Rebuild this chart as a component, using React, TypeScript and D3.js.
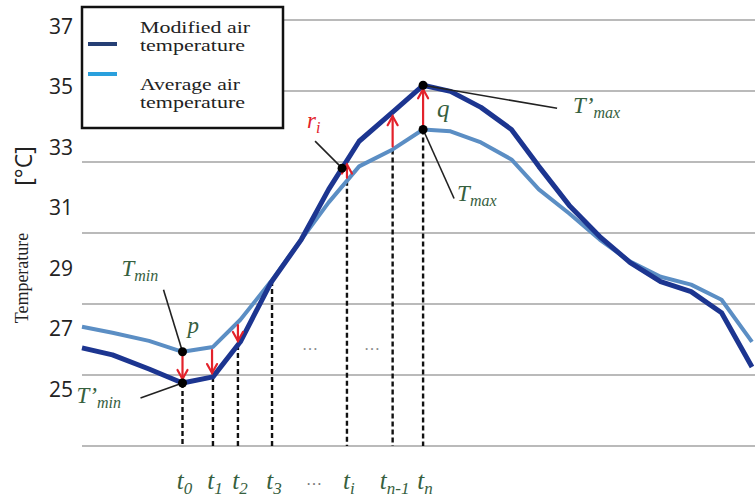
import React from "react";
import * as d3 from "d3";

// ---- data ----
const hours = [0, 1, 2.2, 3.3, 4.3, 5.2, 6.2, 7.2, 8.1, 9.1, 10.2, 11.2, 12.1, 13.1, 14.1, 15, 16, 17, 18, 19, 20, 21, 22];
const modifiedTemp = [26.36, 26.13, 25.66, 25.2, 25.4, 26.56, 28.51, 29.94, 31.6, 33.19, 34.15, 35.04, 34.84, 34.31, 33.58, 32.36, 31.07, 30.04, 29.18, 28.55, 28.22, 27.52, 25.73];
const averageTemp = [27.06, 26.86, 26.59, 26.23, 26.39, 27.29, 28.55, 29.94, 31.17, 32.36, 32.92, 33.58, 33.52, 33.15, 32.59, 31.6, 30.8, 29.94, 29.21, 28.71, 28.45, 27.95, 26.56];
const yTicks = [25, 27, 29, 31, 33, 35, 37];
const gridIndex = [0, 1, 2, 3, 4, 5, 6];

const markTimes = [3.3, 4.3, 5.12, 6.24, 8.7, 10.2, 11.2];
const markMain = ["t", "t", "t", "t", "t", "t", "t"];
const markSubs = ["0", "1", "2", "3", "i", "n-1", "n"];
const arrowTimes = [3.3, 4.27, 5.12, 8.7, 10.2, 11.2];

const legendLabels = [["Modified air", "temperature"], ["Average air", "temperature"]];

const W = 755, H = 497;
const DARK = "#1c3590";
const LIGHT = "#5b8ec4";
const GREEN = "#36603e";
const RED = "#e3222b";
const SERIF = "'Liberation Serif', 'Times New Roman', serif";
const SANS = "'Open Sans', 'Noto Sans', sans-serif";

const x = d3.scaleLinear().domain([0, 22]).range([82, 752]);
const y = d3.scaleLinear().domain([25, 37]).range([389, 26]);
const gy = d3.scaleLinear().domain([0, 6]).range([446, 20]);

function interp(vals: number[], t: number) {
  const i = Math.max(1, Math.min(hours.length - 1, d3.bisectLeft(hours, t)));
  const t0 = hours[i - 1], t1 = hours[i];
  const f = (t - t0) / (t1 - t0);
  return vals[i - 1] + (vals[i] - vals[i - 1]) * f;
}

const line = d3
  .line<number>()
  .x((_, i) => x(hours[i]))
  .y((d) => y(d));

function Arrow({ t }: { t: number }) {
  const xa = x(t);
  const yFrom = y(interp(averageTemp, t));
  const yTo = y(interp(modifiedTemp, t));
  const dir = yTo > yFrom ? 1 : -1;
  const start = yFrom + dir * 3;
  const tip = yTo - dir * 4;
  const hw = 5, hl = 9;
  return (
    <g stroke={RED} strokeWidth={2.2} fill="none" strokeLinecap="round">
      <line x1={xa} y1={start} x2={xa} y2={tip} />
      <path d={`M${xa - hw},${tip - dir * hl} L${xa},${tip} L${xa + hw},${tip - dir * hl}`} />
    </g>
  );
}

function Label({ x0, yb, main, sub, color, size = 23, subSize = 16, shift = 5 }: any) {
  return (
    <text x={x0} y={yb} fontFamily={SERIF} fontStyle="italic" fill={color} fontSize={size}>
      {main}
      {sub ? (
        <tspan fontSize={subSize} dy={shift}>
          {sub}
        </tspan>
      ) : null}
    </text>
  );
}

export default function App() {
  const tMinT = 3.3, tMaxT = 11.2, riT = 8.54;
  const pDot = [x(tMinT), y(interp(averageTemp, tMinT))];
  const pmDot = [x(tMinT), y(interp(modifiedTemp, tMinT))];
  const riDot = [x(riT), y(interp(modifiedTemp, riT))];
  const qDot = [x(tMaxT), y(interp(averageTemp, tMaxT))];
  const qmDot = [x(tMaxT), y(interp(modifiedTemp, tMaxT))];
  const dots = [pDot, pmDot, riDot, qDot, qmDot];

  return (
    <svg width={W} height={H} style={{ position: "absolute", left: 0, top: 0, background: "#fff" }}>
      <rect width={W} height={H} fill="#fff" />
      {/* grid */}
      {gridIndex.map((g) => (
        <line key={g} x1={82} x2={W} y1={gy(g)} y2={gy(g)} stroke="#a3a3a3" strokeWidth={1.6} />
      ))}
      {/* y tick labels */}
      {yTicks.map((v) => (
        <text key={v} x={73} y={y(v)} dy="0.36em" textAnchor="end" fontFamily={SANS} fontSize={21} fill="#222">
          {v}
        </text>
      ))}
      {/* axis titles */}
      <text transform="translate(28,278) rotate(-90)" textAnchor="middle" fontFamily={SERIF} fontSize={18} fill="#222">
        Temperature
      </text>
      <text transform="translate(32,166) rotate(-90)" textAnchor="middle" fontFamily={SANS} fontSize={23} fill="#222">
        [°C]
      </text>

      {/* dashed time markers */}
      {markTimes.map((t, i) => {
        const top = Math.max(y(interp(modifiedTemp, t)), y(interp(averageTemp, t)));
        return (
          <line key={i} x1={x(t)} x2={x(t)} y1={top} y2={gy(0)} stroke="#111" strokeWidth={2.4} strokeDasharray="5,3" />
        );
      })}

      {/* series */}
      <path d={line(averageTemp) || ""} fill="none" stroke={LIGHT} strokeWidth={4} strokeLinejoin="round" />
      <path d={line(modifiedTemp) || ""} fill="none" stroke={DARK} strokeWidth={5} strokeLinejoin="round" />

      {/* arrows */}
      {arrowTimes.map((t, i) => (
        <Arrow key={i} t={t} />
      ))}

      {/* leaders */}
      <g stroke="#222" strokeWidth={1.6}>
        <line x1={pDot[0] - 19} y1={pDot[1] - 62} x2={pDot[0]} y2={pDot[1]} />
        <line x1={pmDot[0] - 42} y1={pmDot[1] + 15} x2={pmDot[0]} y2={pmDot[1]} />
        <line x1={riDot[0] - 27} y1={riDot[1] - 27} x2={riDot[0]} y2={riDot[1]} />
        <line x1={qDot[0] + 31} y1={qDot[1] + 69} x2={qDot[0]} y2={qDot[1]} />
        <line x1={qmDot[0] + 134} y1={qmDot[1] + 23} x2={qmDot[0]} y2={qmDot[1]} />
      </g>
      {dots.map((d, i) => (
        <circle key={i} cx={d[0]} cy={d[1]} r={4.5} fill="#000" />
      ))}

      {/* annotation labels */}
      <Label x0={pDot[0] - 61} yb={pDot[1] - 76} main="T" sub="min" color={GREEN} />
      <Label x0={pDot[0] + 5} yb={pDot[1] - 19} main="p" color={GREEN} />
      <Label x0={pmDot[0] - 106} yb={pmDot[1] + 20} main="T’" sub="min" color={GREEN} />
      <Label x0={riDot[0] - 35} yb={riDot[1] - 40} main="r" sub="i" color={RED} />
      <Label x0={qDot[0] + 14} yb={qDot[1] - 12} main="q" color={GREEN} size={25} />
      <Label x0={qDot[0] + 34} yb={qDot[1] + 72} main="T" sub="max" color={GREEN} />
      <Label x0={qmDot[0] + 150} yb={qmDot[1] + 28} main="T’" sub="max" color={GREEN} />

      {/* ellipses */}
      <text x={310} y={350} textAnchor="middle" fontFamily={SERIF} fontSize={16} fill="#888">…</text>
      <text x={372} y={350} textAnchor="middle" fontFamily={SERIF} fontSize={16} fill="#888">…</text>
      <text x={314} y={485} textAnchor="middle" fontFamily={SERIF} fontSize={16} fill="#777">…</text>

      {/* time labels */}
      {markTimes.map((t, i) => (
        <text key={i} x={x(t) + 2} y={489} textAnchor="middle" fontFamily={SERIF} fontStyle="italic" fontSize={25} fill={GREEN}>
          {markMain[i]}
          <tspan fontSize={17} dy={5}>
            {markSubs[i]}
          </tspan>
        </text>
      ))}

      {/* legend */}
      <rect x={82} y={7} width={201} height={121} fill="#fff" stroke="#111" strokeWidth={2.5} />
      <line x1={88} x2={117} y1={44} y2={44} stroke="#263f75" strokeWidth={4} />
      <line x1={88} x2={117} y1={74} y2={74} stroke="#2aa0dd" strokeWidth={4} />
      {legendLabels.map((lines, i) =>
        lines.map((s, j) => (
          <text
            key={`${i}-${j}`}
            x={140}
            y={33 + i * 57 + j * 18}
            fontFamily={SERIF}
            fontSize={17}
            fill="#222"
            textLength={j === 0 ? (i === 0 ? 110 : 100) : 105}
            lengthAdjust="spacingAndGlyphs"
          >
            {s}
          </text>
        ))
      )}
    </svg>
  );
}
